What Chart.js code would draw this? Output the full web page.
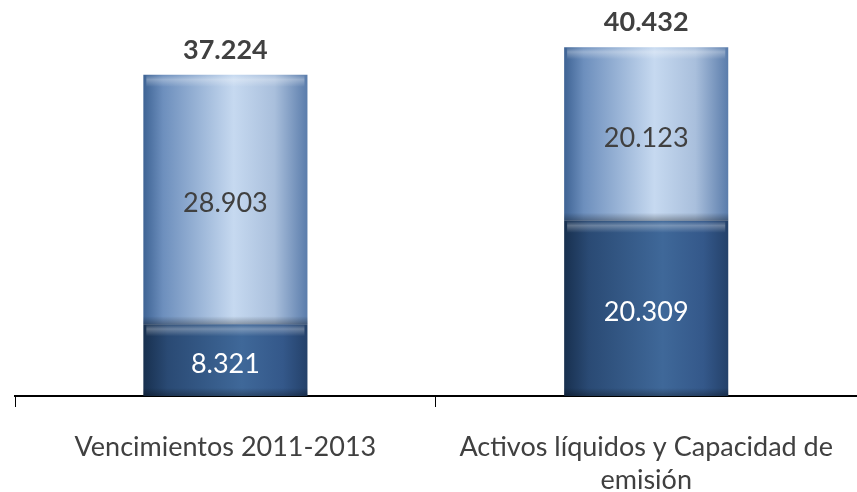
<!DOCTYPE html>
<html>
<head>
<meta charset="utf-8">
<script src="https://cdn.jsdelivr.net/npm/chart.js@4/dist/chart.umd.min.js"></script>
<style>
  html, body { margin: 0; padding: 0; background: #fff; }
  #wrap { width: 857px; height: 492px; position: relative; }
</style>
</head>
<body>
<div id="wrap"><canvas id="dataChart"></canvas></div>
<script>
// Chart data
const categories = [['Vencimientos 2011-2013'], ['Activos líquidos y Capacidad de', 'emisión']];
const darkValues = [8.321, 20.309];   // lower segment
const lightValues = [28.903, 20.123]; // upper segment

const FONT = 'Lato, "Open Sans", sans-serif';
const TEXT = '#404040';

// fmt like 37.224
function fmt(v) {
    return v.toFixed(3);
}

// horizontal "cylinder" gradient over the width of a bar
function barGradient(context, stops) {
    const chart = context.chart;
    const xs = chart.scales.x;
    if (!xs || !chart.chartArea) return stops[1][1];
    const center = xs.getPixelForValue(context.dataIndex);
    const half = (xs.width / categories.length) * 0.39 / 2;
    const g = chart.ctx.createLinearGradient(center - half, 0, center + half, 0);
    stops.forEach(s => g.addColorStop(s[0], s[1]));
    return g;
}

const lightStops = [[0, '#3e6394'], [0.12, '#6d8fbd'], [0.55, '#c6d9f0'], [0.8, '#a9bfdc'], [1, '#5a7cab']];
const darkStops = [[0, '#18304f'], [0.15, '#2a4a74'], [0.6, '#3f6899'], [0.85, '#34588a'], [1, '#24416a']];

// soft bevel highlight at top of each segment, shadow at its bottom
const bevelPlugin = {
    id: 'bevel',
    afterDatasetsDraw(chart) {
        const ctx = chart.ctx;
        chart.data.datasets.forEach((ds, di) => {
            chart.getDatasetMeta(di).data.forEach(el => {
                const left = el.x - el.width / 2;
                const top = Math.min(el.y, el.base);
                const bottom = Math.max(el.y, el.base);
                ctx.save();
                let g = ctx.createLinearGradient(0, top, 0, top + 12);
                g.addColorStop(0, 'rgba(255,255,255,0)');
                g.addColorStop(0.4, 'rgba(255,255,255,0.3)');
                g.addColorStop(1, 'rgba(255,255,255,0)');
                ctx.fillStyle = g;
                ctx.fillRect(left + 3, top, el.width - 6, 12);
                g = ctx.createLinearGradient(0, bottom - 8, 0, bottom);
                g.addColorStop(0, 'rgba(0,0,0,0)');
                g.addColorStop(1, 'rgba(0,0,0,0.3)');
                ctx.fillStyle = g;
                ctx.fillRect(left, bottom - 8, el.width, 8);
                ctx.restore();
            });
        });
    }
};

// value labels inside the segments and totals above
const labelPlugin = {
    id: 'labels',
    afterDatasetsDraw(chart) {
        const ctx = chart.ctx;
        ctx.save();
        ctx.textAlign = 'center';
        ctx.textBaseline = 'middle';
        ctx.font = '27px ' + FONT;
        chart.data.datasets.forEach((ds, di) => {
            chart.getDatasetMeta(di).data.forEach((el, i) => {
                ctx.fillStyle = di === 0 ? '#ffffff' : TEXT;
                ctx.fillText(fmt(ds.data[i]), el.x, (el.y + el.base) / 2 + 4);
            });
        });
        const topMeta = chart.getDatasetMeta(chart.data.datasets.length - 1);
        ctx.font = 'bold 27px ' + FONT;
        ctx.fillStyle = TEXT;
        topMeta.data.forEach((el, i) => {
            const total = darkValues[i] + lightValues[i];
            ctx.fillText(fmt(total), el.x, el.y - 25);
        });
        ctx.restore();
    }
};

const ctx = document.getElementById('dataChart').getContext('2d');
const myChart = new Chart(ctx, {
    type: 'bar',
    data: {
        labels: categories,
        datasets: [{
            label: 'Vencimientos',
            data: darkValues,
            backgroundColor: c => barGradient(c, darkStops),
            borderWidth: 0
        }, {
            label: 'Capacidad',
            data: lightValues,
            backgroundColor: c => barGradient(c, lightStops),
            borderWidth: 0
        }]
    },
    options: {
        responsive: true,
        maintainAspectRatio: false,
        animation: false,
        layout: { padding: { left: 15, right: 0, top: 0, bottom: 0 } },
        datasets: {
            bar: { barPercentage: 1, categoryPercentage: 0.39 }
        },
        plugins: {
            legend: { display: false },
            tooltip: { enabled: false }
        },
        scales: {
            x: {
                stacked: true,
                grid: {
                    offset: true,
                    drawOnChartArea: false,
                    drawTicks: true,
                    tickLength: 11,
                    // no tick mark at the right end of the axis
                    color: c => c.type === 'tick' ? '#000' : 'rgba(0,0,0,0)',
                    lineWidth: 1
                },
                border: { display: true, color: '#000', width: 2 },
                ticks: {
                    color: TEXT,
                    padding: 24,
                    maxRotation: 0,
                    autoSkip: false,
                    font: { family: FONT, size: 27, lineHeight: 1.22 }
                },
                afterFit(scale) { scale.height = 96; }
            },
            y: {
                stacked: true,
                display: false,
                min: 0,
                max: 45.9
            }
        }
    },
    plugins: [bevelPlugin, labelPlugin]
});
</script>
</body>
</html>
